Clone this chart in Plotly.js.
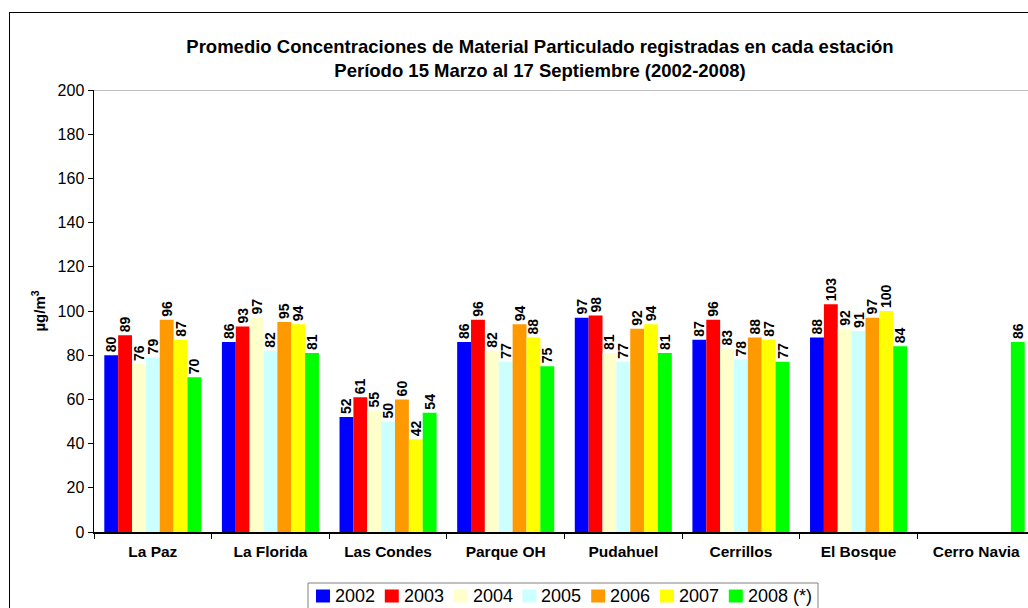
<!DOCTYPE html>
<html><head><meta charset="utf-8">
<script src="https://cdn.plot.ly/plotly-3.0.1.min.js"></script>
<style>
html,body{margin:0;padding:0;overflow:hidden;background:#fff;}
#chart{position:absolute;left:0;top:0;}
#frame{position:absolute;left:9px;top:12px;width:1100px;height:700px;border:1px solid #000;pointer-events:none;}
</style>
</head><body>
<div id="chart"></div>
<div id="frame"></div>
<script>
const stations = ["La Paz","La Florida","Las Condes","Parque OH","Pudahuel","Cerrillos","El Bosque","Cerro Navia"];
const years = ["2002","2003","2004","2005","2006","2007","2008 (*)"];
const v2002 = [80, 86, 52, 86, 97, 87, 88, null];
const v2003 = [89, 93, 61, 96, 98, 96, 103, null];
const v2004 = [76, 97, 55, 82, 81, 83, 92, null];
const v2005 = [79, 82, 50, 77, 77, 78, 91, null];
const v2006 = [96, 95, 60, 94, 92, 88, 97, null];
const v2007 = [87, 94, 42, 88, 94, 87, 100, null];
const v2008 = [70, 81, 54, 75, 81, 77, 84, 86];
const yTicks = [0,20,40,60,80,100,120,140,160,180,200];
const colors = ["#0000FF","#FF0000","#FFFFCC","#CCFFFF","#FF9900","#FFFF00","#00FF00"];
const series = [v2002,v2003,v2004,v2005,v2006,v2007,v2008];

const font = "Liberation Sans, Arial, sans-serif";
const W = 1045, H = 640;
const M = {l:94, r:10, t:90, b:108};
const PW = W - M.l - M.r, PH = H - M.t - M.b;
const px2x = p => (p - M.l) / PW;
const px2y = p => (H - M.b - p) / PH;

const traces = series.map((vals,i)=>({
  type:"bar", name:years[i], x:stations, y:vals,
  marker:{color:colors[i], line:{width:0}},
  text:vals.map(v=>v==null?null:String(v)), textposition:"outside",
  textangle:-90, cliponaxis:false, constraintext:"none",
  textfont:{family:font, size:14, color:"#000", weight:"bold"},
  hoverinfo:"x+y+name"
}));

// custom compact legend (built from years/colors)
const legLeft = 308, legTop = 583, legStride = 68.8, legY = 596;
const shapes = [
  {type:"line", xref:"paper", yref:"y", x0:0, x1:1, y0:200, y1:200, line:{color:"#808080", width:1}},
  {type:"rect", xref:"paper", yref:"paper", x0:px2x(legLeft), x1:px2x(818), y0:px2y(legTop), y1:px2y(640),
   line:{color:"#808080", width:1}, fillcolor:"rgba(0,0,0,0)"}
];
const annotations = [];
years.forEach((yr,i)=>{
  const sx = 316 + i*legStride;
  shapes.push({type:"rect", xref:"paper", yref:"paper", x0:px2x(sx), x1:px2x(sx+14), y0:px2y(legY-6.5), y1:px2y(legY+6.5),
    line:{width:0}, fillcolor:colors[i]});
  annotations.push({xref:"paper", yref:"paper", x:px2x(sx+17), y:px2y(legY), xanchor:"left", yanchor:"middle",
    text:yr, showarrow:false, font:{family:font, size:18, color:"#000"}});
});

const layout = {
  width:W, height:H,
  margin:M,
  paper_bgcolor:"#fff", plot_bgcolor:"#fff",
  font:{family:font, color:"#000"},
  title:{text:"<b>Promedio Concentraciones de Material Particulado registradas en cada estación<br>Período 15 Marzo al 17 Septiembre (2002-2008)</b>",
    font:{family:font, size:18.5, color:"#000"}, xref:"container", x:540/W, xanchor:"center", y:1-52.5/H, yanchor:"middle"},
  barmode:"group", bargap:0.175, bargroupgap:0,
  xaxis:{type:"category", showline:true, linecolor:"#000", linewidth:1.5, ticks:"outside", tickson:"boundaries",
    ticklen:5, tickcolor:"#000", showgrid:false, ticklabelstandoff:5,
    tickfont:{family:font, size:15.5, weight:"bold"}, fixedrange:true},
  yaxis:{range:[0,200], tickvals:yTicks, showline:true, linecolor:"#000", linewidth:1.5, ticks:"outside", ticklen:5,
    tickcolor:"#000", showgrid:false, zeroline:false, tickfont:{family:font, size:16},
    title:{text:"<b>µg/m<sup>3</sup></b>", font:{family:font, size:15}, standoff:8}},
  shapes:shapes,
  annotations:annotations,
  showlegend:false
};
Plotly.newPlot("chart", traces, layout, {displayModeBar:false, staticPlot:true});
</script>
</body></html>
